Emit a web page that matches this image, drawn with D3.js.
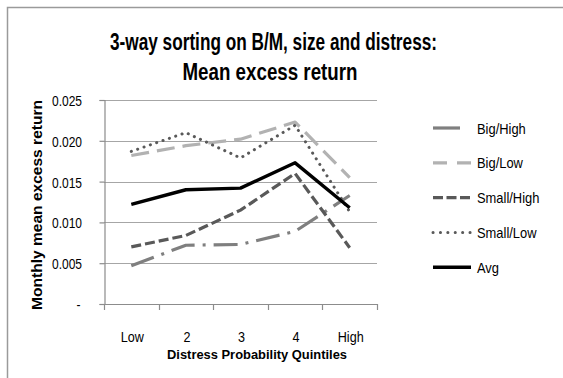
<!DOCTYPE html>
<html>
<head>
<meta charset="utf-8">
<script src="https://cdn.jsdelivr.net/npm/d3@7/dist/d3.min.js"></script>
<style>
  html, body { margin: 0; padding: 0; background: #ffffff; }
  svg { display: block; }
  text { font-family: "Liberation Sans", Arial, sans-serif; fill: #000; }
</style>
</head>
<body>
<svg id="chart" width="563" height="378"></svg>
<script>
// Distress probability quintiles (x categories)
const categories = ["Low", "2", "3", "4", "High"];

// Monthly mean excess return per portfolio
const bigHigh   = [0.0047, 0.0072, 0.0073, 0.0089, 0.0133];
const bigLow    = [0.0182, 0.0194, 0.0202, 0.0223, 0.0155];
const smallHigh = [0.0070, 0.0084, 0.0115, 0.0160, 0.0069];
const smallLow  = [0.0187, 0.0210, 0.0179, 0.0219, 0.0113];
const avg       = [0.0122, 0.0140, 0.0142, 0.0173, 0.0118];

// Y axis tick values
const yTicks = [0, 0.005, 0.010, 0.015, 0.020, 0.025];

const seriesNames = ["Big/High", "Big/Low", "Small/High", "Small/Low", "Avg"];
const seriesValues = [bigHigh, bigLow, smallHigh, smallLow, avg];

// Line styles for each series
const styles = {
  "Big/High":   { color: "#7f7f7f", width: 3.2, dash: "24,8,3,8",  cap: "butt",  legendDash: "27,20" },
  "Big/Low":    { color: "#b2b2b2", width: 3.2, dash: "18,8",      cap: "butt",  legendDash: "14,10" },
  "Small/High": { color: "#595959", width: 3.2, dash: "10,4",      cap: "butt",  legendDash: "10,3.5" },
  "Small/Low":  { color: "#595959", width: 3.0, dash: "0.1,6.6",   cap: "round", legendDash: "0.1,7.3" },
  "Avg":        { color: "#000000", width: 3.4, dash: null,        cap: "butt",  legendDash: null }
};

const svg = d3.select("#chart");

// Compress text horizontally to a narrow, condensed look
function squeeze(sel, factor) {
  sel.each(function () {
    const w = this.getComputedTextLength();
    d3.select(this).attr("textLength", w * factor).attr("lengthAdjust", "spacingAndGlyphs");
  });
}
function fitTo(sel, len) {
  sel.attr("textLength", len).attr("lengthAdjust", "spacingAndGlyphs");
}

// Outer chart frame (top and left edges visible)
svg.append("path")
  .attr("d", "M7.5,378 L7.5,7.5 L563,7.5")
  .attr("fill", "none")
  .attr("stroke", "#9a9a9a")
  .attr("stroke-width", 1.5);

// Plot area
const plot = { left: 104, right: 377, top: 100, bottom: 304 };

const x = d3.scaleBand().domain(categories).range([plot.left, plot.right]).padding(0);
const y = d3.scaleLinear().domain([0, 0.025]).range([plot.bottom, plot.top]);
const cx = c => x(c) + x.bandwidth() / 2;

// Horizontal gridlines
svg.append("g")
  .selectAll("line")
  .data(yTicks.filter(d => d > 0))
  .join("line")
  .attr("x1", plot.left).attr("x2", plot.right)
  .attr("y1", d => Math.round(y(d)) + 0.5).attr("y2", d => Math.round(y(d)) + 0.5)
  .attr("stroke", "#a6a6a6").attr("stroke-width", 1.2);

// Y axis
const yAxis = svg.append("g")
  .attr("transform", `translate(${plot.left + 0.5},0)`)
  .call(d3.axisLeft(y).tickValues(yTicks).tickSize(5).tickPadding(17)
    .tickFormat(d => d === 0 ? "-" : d3.format(".3f")(d)));
yAxis.select(".domain").attr("stroke", "#8c8c8c").attr("stroke-width", 1.2);
yAxis.selectAll(".tick line").attr("stroke", "#8c8c8c").attr("stroke-width", 1.2);
// Right-align the condensed labels explicitly at the label column
yAxis.selectAll(".tick text")
  .attr("font-size", 15)
  .attr("font-family", "Liberation Sans, Arial, sans-serif")
  .attr("fill", "#000")
  .attr("dy", "0.36em")
  .attr("text-anchor", "start")
  .each(function (d) {
    const f = 0.8;
    const w = this.getComputedTextLength();
    const right = d === 0 ? -24 : -22.5;
    d3.select(this)
      .attr("x", right - w * f)
      .attr("textLength", w * f)
      .attr("lengthAdjust", "spacingAndGlyphs");
  });

// X axis baseline with ticks at category boundaries
const xAxisG = svg.append("g");
xAxisG.append("line")
  .attr("x1", plot.left).attr("x2", plot.right)
  .attr("y1", plot.bottom + 0.5).attr("y2", plot.bottom + 0.5)
  .attr("stroke", "#8c8c8c").attr("stroke-width", 1.2);
const boundaries = categories.map(c => x(c)).concat([x(categories[categories.length - 1]) + x.bandwidth()]);
xAxisG.selectAll("line.tick")
  .data(boundaries)
  .join("line")
  .attr("class", "tick")
  .attr("x1", d => Math.round(d) + 0.5).attr("x2", d => Math.round(d) + 0.5)
  .attr("y1", plot.bottom).attr("y2", plot.bottom + 6)
  .attr("stroke", "#8c8c8c").attr("stroke-width", 1.2);
xAxisG.selectAll("text")
  .data(categories)
  .join("text")
  .attr("x", d => cx(d) + 1)
  .attr("y", 341.5)
  .attr("text-anchor", "middle")
  .attr("font-size", 15)
  .text(d => d)
  .call(squeeze, 0.84);

// Series lines
const line = d3.line()
  .x((d, i) => cx(categories[i]))
  .y(d => y(d));

const order = ["Big/High", "Big/Low", "Small/High", "Small/Low", "Avg"];
order.forEach(name => {
  const vals = seriesValues[seriesNames.indexOf(name)];
  const s = styles[name];
  svg.append("path")
    .datum(vals)
    .attr("d", line)
    .attr("fill", "none")
    .attr("stroke", s.color)
    .attr("stroke-width", s.width)
    .attr("stroke-linecap", s.cap)
    .attr("stroke-linejoin", "round")
    .attr("stroke-dasharray", s.dash);
});

// Legend
const legend = svg.append("g");
seriesNames.forEach((name, i) => {
  const s = styles[name];
  const ly = 128 + i * 34.8;
  legend.append("line")
    .attr("x1", 433).attr("x2", 471)
    .attr("y1", ly).attr("y2", ly)
    .attr("stroke", s.color)
    .attr("stroke-width", s.width)
    .attr("stroke-linecap", s.cap)
    .attr("stroke-dasharray", s.legendDash);
  legend.append("text")
    .attr("x", 477)
    .attr("y", ly + 5.5)
    .attr("font-size", 15)
    .text(name)
    .call(squeeze, 0.86);
});

// Title
svg.append("text")
  .attr("x", 273.5).attr("y", 50)
  .attr("text-anchor", "middle")
  .attr("font-size", 23).attr("font-weight", "bold")
  .text("3-way sorting on B/M, size and distress:")
  .call(fitTo, 327);
svg.append("text")
  .attr("x", 270).attr("y", 80)
  .attr("text-anchor", "middle")
  .attr("font-size", 23).attr("font-weight", "bold")
  .text("Mean excess return")
  .call(fitTo, 175);

// Axis titles
svg.append("text")
  .attr("transform", "translate(42,205) rotate(-90)")
  .attr("text-anchor", "middle")
  .attr("font-size", 14).attr("font-weight", "bold")
  .text("Monthly mean excess return")
  .call(fitTo, 210);
svg.append("text")
  .attr("x", 257).attr("y", 358.5)
  .attr("text-anchor", "middle")
  .attr("font-size", 13.5).attr("font-weight", "bold")
  .text("Distress Probability Quintiles")
  .call(fitTo, 180);
</script>
</body>
</html>
